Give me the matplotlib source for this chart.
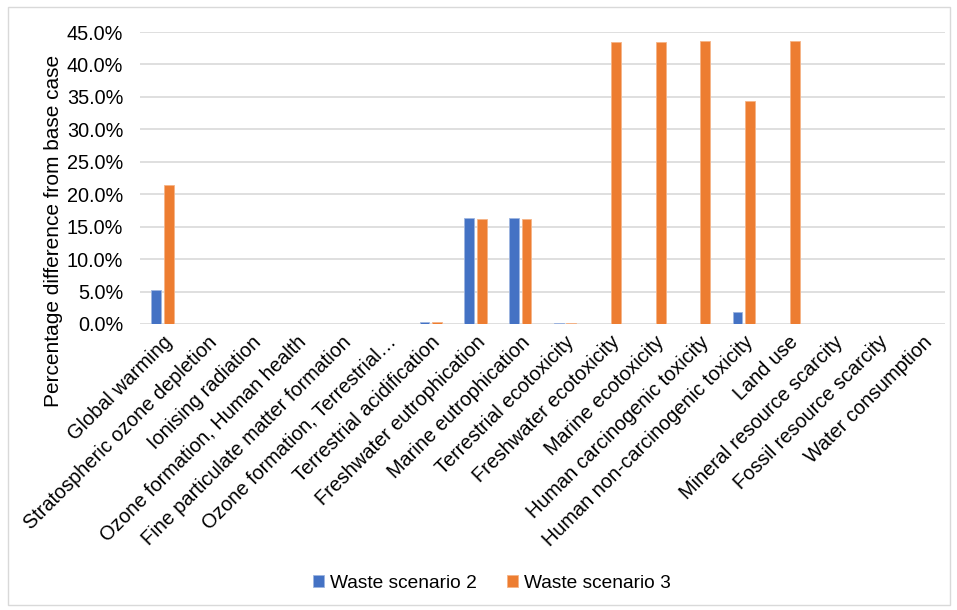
import matplotlib
matplotlib.use("Agg")
import matplotlib.pyplot as plt
import numpy as np
from matplotlib.ticker import FuncFormatter, MultipleLocator
from matplotlib.patches import Rectangle

categories = [
    "Global warming",
    "Stratospheric ozone depletion",
    "Ionising radiation",
    "Ozone formation, Human health",
    "Fine particulate matter formation",
    "Ozone formation, Terrestrial…",
    "Terrestrial acidification",
    "Freshwater eutrophication",
    "Marine eutrophication",
    "Terrestrial ecotoxicity",
    "Freshwater ecotoxicity",
    "Marine ecotoxicity",
    "Human carcinogenic toxicity",
    "Human non-carcinogenic toxicity",
    "Land use",
    "Mineral resource scarcity",
    "Fossil resource scarcity",
    "Water consumption",
]
scenario2 = [5.2, 0.0, 0.0, 0.0, 0.0, 0.0, 0.3, 16.3, 16.3, 0.15, 0.0, 0.0, 0.0, 1.8, 0.0, 0.0, 0.0, 0.0]
scenario3 = [21.4, 0.0, 0.0, 0.0, 0.0, 0.0, 0.3, 16.2, 16.2, 0.15, 43.5, 43.5, 43.6, 34.4, 43.6, 0.0, 0.0, 0.0]
series_names = ["Waste scenario 2", "Waste scenario 3"]
colors = ["#4472C4", "#ED7D31"]

plt.rcParams["font.family"] = ["Liberation Sans", "DejaVu Sans"]

fig = plt.figure(figsize=(9.57, 6.10), dpi=100)
ax = fig.add_axes([0.1463, 0.4689, 0.8412, 0.4786])

x = np.arange(len(categories))
w = 0.22
off = 0.14
ax.bar(x - off, np.array(scenario2) / 100, width=w, color=colors[0], edgecolor="#9db5e0", linewidth=0.6, label=series_names[0], zorder=3)
ax.bar(x + off, np.array(scenario3) / 100, width=w, color=colors[1], edgecolor="#f5b487", linewidth=0.6, label=series_names[1], zorder=3)

ax.set_xlim(-0.5, len(categories) - 0.5)
ax.set_ylim(0, 0.45)
ax.yaxis.set_major_locator(MultipleLocator(0.05))
ax.yaxis.set_major_formatter(FuncFormatter(lambda v, p: f"{v*100:.1f}%"))
ax.grid(axis="y", color="#d9d9d9", linewidth=1.2, zorder=0)
for s in ax.spines.values():
    s.set_visible(False)
ax.tick_params(axis="both", length=0, labelsize=14.3, colors="#000000")
ax.tick_params(axis="y", pad=12)
ax.set_xticks(x)
ax.set_xticklabels(categories, rotation=45, ha="right", rotation_mode="anchor", fontsize=14.3)
ax.tick_params(axis="x", pad=6)
ax.set_ylabel("Percentage difference from base case", fontsize=15.0)
ax.yaxis.set_label_coords(-0.0957, 0.32)

ax.legend(loc="center", bbox_to_anchor=(0.514, 0.044), bbox_transform=fig.transFigure,
          ncol=2, frameon=False, fontsize=13.8, handlelength=0.55, handleheight=0.55,
          columnspacing=1.6, handletextpad=0.3)

fig.patches.append(Rectangle((8 / 957, 5 / 610), 942 / 957, 598 / 610, transform=fig.transFigure,
                             fill=False, edgecolor="#d9d9d9", linewidth=1.0))

fig.savefig("out.png", dpi=100)
